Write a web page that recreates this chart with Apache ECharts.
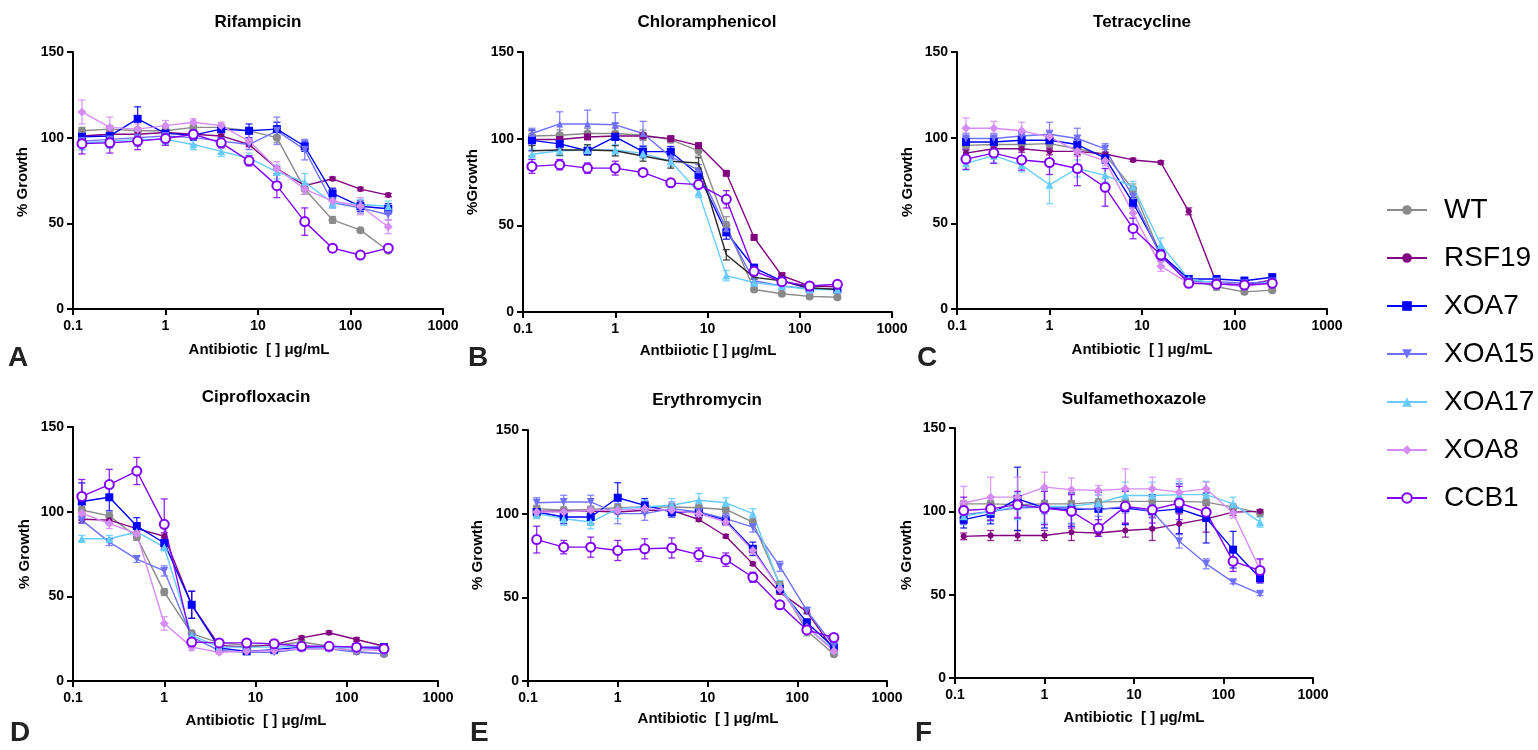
<!DOCTYPE html>
<html><head><meta charset="utf-8">
<script src="https://cdn.jsdelivr.net/npm/echarts@6/dist/echarts.min.js"></script>
<style>html,body{margin:0;padding:0;background:#fff}#c{width:1538px;height:750px}</style>
</head><body><div id="c"></div>
<script>
// ---------- DATA ----------
const conc = [0.125, 0.25, 0.5, 1, 2, 4, 8, 16, 32, 64, 128, 256];
const strains = ['WT', 'RSF19', 'XOA7', 'XOA15', 'XOA17', 'XOA8', 'CCB1'];
const xTicks = [0.1, 1, 10, 100, 1000];
const yTicks = [0, 50, 100, 150];

// Rifampicin
const RIF_WT    = [104,105,104,104,106,106,104,100,70,52,46,34];
const RIF_RSF19 = [101,102,102,103,102,101,96,82,72,76,70,66.5];
const RIF_XOA7  = [100.5,101,111,102.5,101.5,105,104,105,95,67.5,60,58.5];
const RIF_XOA15 = [98,99,100,101,100,98,96,104,93,62,59,55];
const RIF_XOA17 = [97,98,99,99,96,92,88,80,74,62,61,60];
const RIF_XOA8  = [115,106,105,107,109,107,98,82,70,63,60,48];
const RIF_CCB1  = [96.5,97,98,99.5,102,97,86.5,72,51,35.5,31.5,35.5];
const RIF_ERR = [
  [2,2,2,2,2,2,2,3,3,2,1,1],
  [1,1,1,1,1,1,1,1,1,1,1,1],
  [3,4,7,4,3,2,4,4,3,3,3,3],
  [5,5,5,4,4,3,3,8,6,3,3,3],
  [4,4,3,3,3,3,3,4,5,3,3,3],
  [7,6,3,3,2,2,4,4,3,3,5,4],
  [6,6,5,4,3,3,3,7,8,2,2,2]];

// Chloramphenicol
const CHL_WT    = [101.5,102,103,103,102,99.5,93,50,13,10.5,9,8.5];
const CHL_RSF19 = [99.5,99.5,101,101.5,101.5,100,96,80,43,21,15,14.5];
const CHL_XOA7  = [99,97,93,101,92.5,92.5,79,46,25.5,18,13.5,13];
const CHL_XOA15 = [103,108.5,108.5,108,103,89.5,82,48,18,15,13.5,13];
const CHL_XOA17 = [91,93,93.5,93.5,91.5,87,69,21,17,15,13,13];
const CHL_XOA8  = [93,93.5,93.5,93,90,87,86,33,20,18,14,13];
const CHL_CCB1  = [84,85,83,83,80.5,74.5,73.5,65,23.5,17.5,15,16];
const CHL_ERR = [
  [3,3,3,3,3,2,3,5,1,1,1,1],
  [1,1,1,1,1,1,1,1,1,1,1,1],
  [6,3,2,8,3,3,3,4,2,2,1,1],
  [3,7,8,7,7,4,3,4,2,2,1,1],
  [3,3,3,3,3,3,3,3,2,1,1,1],
  [3,3,3,3,3,4,3,3,1,1,1,1],
  [4,3,3,4,2,2,2,5,2,1,1,1]];

// Tetracycline
const TET_WT    = [95.5,96,96,96.5,93.5,90,70,31.5,17.5,13,10,11];
const TET_RSF19 = [91,93.5,93.5,92,92,90.5,87,85.5,57,15,14,17];
const TET_XOA7  = [97.5,97.5,98.5,98.5,96,88,62,32,17.5,17.5,16.5,18.5];
const TET_XOA15 = [99.5,99.5,101,102,99.5,93.5,65.5,30.5,16,16,15,16];
const TET_XOA17 = [85,89.5,84,72.5,82,78,71.5,37.5,17.5,15,13.5,16];
const TET_XOA8  = [105.5,105.5,104,100.5,92,86.5,56,25,15,15,13,15.5];
const TET_CCB1  = [87.5,91,87,85.5,82,71,47,31.5,15,14.5,14,15];
const TET_ERR = [
  [3,3,3,3,3,3,3,2,1,2,1,1],
  [2,2,2,2,2,1,1,1,2,1,1,1],
  [3,3,3,3,3,3,3,3,2,2,2,2],
  [3,3,3,7,6,3,3,3,2,2,2,2],
  [4,4,4,11,5,4,3,4,2,2,2,2],
  [6,4,5,4,3,3,3,3,2,2,2,2],
  [6,6,6,7,10,11,6,3,2,2,2,2]];

// Ciprofloxacin
const CIP_WT    = [101,97.5,85,52.5,28,22.5,21,21,23,20.5,17.5,16];
const CIP_RSF19 = [95.5,95,90,85.5,45,21,20,21.5,25.5,28.5,24.5,20.5];
const CIP_XOA7  = [106,108.5,91.5,81.5,45,19.5,17.5,18.5,20,20,20,20];
const CIP_XOA15 = [95,82,72,65,26,18,17,17,19,19,17,16];
const CIP_XOA17 = [84,84,88,79,27,20,20,20,20.5,20,19.5,18.5];
const CIP_XOA8  = [99,93,87,34,20,17,17.5,18,19,19,18.5,18];
const CIP_CCB1  = [109,116,124,92.5,23,22.5,22.5,22,20.5,20.5,20,19];
const CIP_ERR = [
  [2,2,2,2,2,1,1,1,1,1,1,1],
  [2,2,2,2,8,1,1,1,1,1,1,1],
  [11,8,5,3,8,2,1,1,1,1,1,1],
  [2,2,2,3,2,1,1,1,1,1,1,1],
  [2,2,2,2,2,1,1,1,1,1,1,1],
  [3,3,3,4,2,1,1,1,1,1,1,1],
  [10,9,8,15,2,2,2,2,1,1,1,1]];

// Erythromycin
const ERY_WT    = [103,102,102.5,103.5,104,104,103.5,102.5,95,57.5,30,16];
const ERY_RSF19 = [101.5,101.5,101.5,101,102,102,96.5,86.5,70,53,41.5,18.5];
const ERY_XOA7  = [101,98,98,109.5,105,101,101,96,79,55,35,20];
const ERY_XOA15 = [106.5,107,107,100,100,103,101,97,92,68.5,42,21];
const ERY_XOA17 = [100,97,95,103,104,105,108,106.5,100,57,32,19];
const ERY_XOA8  = [101,101,102,102,103,102,100,95,78,55,32,18];
const ERY_CCB1  = [84.5,80,80,78,79,79.5,75.5,72.5,62,45.5,30.5,26];
const ERY_ERR = [
  [2,2,2,2,2,2,2,2,2,2,3,1],
  [1,1,1,1,1,1,1,1,1,1,1,1],
  [3,4,4,9,4,3,3,3,4,3,2,2],
  [3,4,4,6,4,4,4,3,3,3,2,2],
  [3,4,4,6,4,4,4,3,3,3,2,2],
  [2,2,2,2,2,2,2,2,2,2,2,2],
  [8,4,6,6,6,6,4,4,3,2,2,2]];

// Sulfamethoxazole
const SMX_WT    = [104.5,104.5,104,104.5,104.5,105.5,106,106,106,105.5,102.5,99];
const SMX_RSF19 = [85,85.5,85.5,85.5,87.5,87,88.5,89.5,92.5,95.5,99.5,100];
const SMX_XOA7  = [95,98.5,107.5,102,101,101.5,102,100,101.5,96,77,60];
const SMX_XOA15 = [98,100,102,102.5,102,101,103,100,82,68.5,57.5,50.5];
const SMX_XOA17 = [97,100,103,103,103,105,109.5,109.5,110,110,104.5,93.5];
const SMX_XOA8  = [105,108.5,108.5,114.5,113,112.5,113.5,113.5,111.5,113.5,99,65];
const SMX_CCB1  = [100.5,101.5,104,102,100,90,103,101,105,99.5,70,64.5];
const SMX_ERR = [
  [2,2,2,2,2,2,2,2,2,2,2,2],
  [2,3,3,3,5,2,4,7,6,8,2,1],
  [5,6,19,12,10,10,10,10,15,15,11,3],
  [5,5,6,4,4,4,4,4,4,3,1,1],
  [5,6,8,10,10,5,8,8,8,8,4,3],
  [10,12,12,9,7,3,12,7,8,4,3,6],
  [8,7,8,10,10,5,10,8,10,5,6,7]];

// ---------- PANELS (layout separate from data) ----------
const FONT = '"Liberation Sans", Arial, Helvetica, sans-serif';
const panels = [
  {title:'Rifampicin', letter:'A', xName:'Antibiotic  [ ] μg/mL', yName:'% Growth',
   vals:[RIF_WT,RIF_RSF19,RIF_XOA7,RIF_XOA15,RIF_XOA17,RIF_XOA8,RIF_CCB1], errs:RIF_ERR,
   grid:{left:73,top:52,width:370,height:257}, tPos:[258,22], xnPos:[259,350], ynPos:[23,182], lPos:[8,372]},
  {title:'Chloramphenicol', letter:'B', xName:'Antbiiotic [ ] μg/mL', yName:'%Growth',
   vals:[CHL_WT,CHL_RSF19,CHL_XOA7,CHL_XOA15,CHL_XOA17,CHL_XOA8,CHL_CCB1], errs:CHL_ERR,
   grid:{left:523,top:52,width:369,height:260}, tPos:[707,22], xnPos:[708,351], ynPos:[473,182], lPos:[468,372],
   over:{RSF19:{symbol:'rect', size:7}, XOA15:{symbol:'triangle', rotate:0, size:7}, XOA8:{color:'#2a2a2a', symbol:'none'}}},
  {title:'Tetracycline', letter:'C', xName:'Antibiotic  [ ] μg/mL', yName:'% Growth',
   vals:[TET_WT,TET_RSF19,TET_XOA7,TET_XOA15,TET_XOA17,TET_XOA8,TET_CCB1], errs:TET_ERR,
   grid:{left:957,top:52,width:370,height:257}, tPos:[1142,22], xnPos:[1142,350], ynPos:[908,182], lPos:[917,372]},
  {title:'Ciprofloxacin', letter:'D', xName:'Antibiotic  [ ] μg/mL', yName:'% Growth',
   vals:[CIP_WT,CIP_RSF19,CIP_XOA7,CIP_XOA15,CIP_XOA17,CIP_XOA8,CIP_CCB1], errs:CIP_ERR,
   grid:{left:73,top:427,width:365,height:254}, tPos:[256,397], xnPos:[256,721], ynPos:[25,554], lPos:[10,747]},
  {title:'Erythromycin', letter:'E', xName:'Antibiotic  [ ] μg/mL', yName:'% Growth',
   vals:[ERY_WT,ERY_RSF19,ERY_XOA7,ERY_XOA15,ERY_XOA17,ERY_XOA8,ERY_CCB1], errs:ERY_ERR,
   grid:{left:528,top:430,width:359,height:251}, tPos:[707,400], xnPos:[708,719], ynPos:[478,555], lPos:[470,747]},
  {title:'Sulfamethoxazole', letter:'F', xName:'Antibiotic  [ ] μg/mL', yName:'% Growth',
   vals:[SMX_WT,SMX_RSF19,SMX_XOA7,SMX_XOA15,SMX_XOA17,SMX_XOA8,SMX_CCB1], errs:SMX_ERR,
   grid:{left:955,top:428,width:358,height:250}, tPos:[1134,399], xnPos:[1134,718], ynPos:[907,555], lPos:[915,747]}
];

const STYLE = {
  WT:    {color:'#8a8a8a', symbol:'circle', size:8, rotate:0},
  RSF19: {color:'#800080', symbol:'circle', size:6, rotate:0},
  XOA7:  {color:'#0000ff', symbol:'rect', size:8, rotate:0},
  XOA15: {color:'#7070ff', symbol:'triangle', size:8, rotate:180},
  XOA17: {color:'#66ccff', symbol:'triangle', size:8, rotate:0},
  XOA8:  {color:'#d68cf7', symbol:'diamond', size:9, rotate:0},
  CCB1:  {color:'#8000ff', symbol:'emptyCircle', size:9, rotate:0}
};

// ---------- BUILD OPTION ----------
const grids = [], xAxes = [], yAxes = [], series = [], graphics = [];
const fmt = v => String(+(+v).toPrecision(3));

panels.forEach((p, pi) => {
  grids.push(Object.assign({containLabel:false}, p.grid));
  xAxes.push({
    type:'log', logBase:10, gridIndex:pi, min:xTicks[0], max:xTicks[xTicks.length-1],
    axisLine:{show:true, onZero:false, lineStyle:{color:'#000', width:2}},
    axisTick:{show:true, length:6, lineStyle:{color:'#000', width:2}},
    minorTick:{show:false}, splitLine:{show:false},
    axisLabel:{color:'#000', fontFamily:FONT, fontWeight:'bold', fontSize:14, margin:10, formatter:fmt}
  });
  yAxes.push({
    type:'value', gridIndex:pi, min:yTicks[0], max:yTicks[yTicks.length-1], interval:50,
    axisLine:{show:true, lineStyle:{color:'#000', width:2}},
    axisTick:{show:true, length:6, lineStyle:{color:'#000', width:2}},
    splitLine:{show:false},
    axisLabel:{color:'#000', fontFamily:FONT, fontWeight:'bold', fontSize:14, margin:9}
  });

  strains.forEach((s, si) => {
    const st = Object.assign({}, STYLE[s], (p.over && p.over[s]) || {});
    const vals = p.vals[si], errs = p.errs[si];
    // error bars
    series.push({
      type:'custom', xAxisIndex:pi, yAxisIndex:pi, z:2, silent:true,
      data: conc.map((c, i) => [c, Math.max(0.01, vals[i] - errs[i]), vals[i] + errs[i]]),
      encode:{x:0, y:[1,2]},
      renderItem: (params, api) => {
        const x = api.value(0);
        const a = api.coord([x, api.value(1)]), b = api.coord([x, api.value(2)]);
        const w = 3.5, sty = {stroke:st.color, lineWidth:1.3, opacity:0.85};
        return {type:'group', children:[
          {type:'line', shape:{x1:a[0], y1:a[1], x2:b[0], y2:b[1]}, style:sty},
          {type:'line', shape:{x1:a[0]-w, y1:a[1], x2:a[0]+w, y2:a[1]}, style:sty},
          {type:'line', shape:{x1:b[0]-w, y1:b[1], x2:b[0]+w, y2:b[1]}, style:sty}
        ]};
      }
    });
    // lines + markers
    const empty = st.symbol === 'emptyCircle';
    series.push({
      name:s, type:'line', xAxisIndex:pi, yAxisIndex:pi, z:3,
      data: conc.map((c, i) => [c, vals[i]]),
      symbol: st.symbol, symbolSize: st.size, symbolRotate: st.rotate, showAllSymbol:true,
      color: st.color,
      lineStyle:{color:st.color, width:1.4},
      itemStyle: empty ? {color:st.color, borderColor:st.color, borderWidth:2} : {color:st.color},
      emphasis:{disabled:true}, animation:false
    });
  });

  const tx = (x, y, text, style, extra) => graphics.push(Object.assign({type:'text', x, y,
    style:Object.assign({text, fill:'#000', fontFamily:FONT, textAlign:'center', textVerticalAlign:'middle'}, style)}, extra || {}));
  tx(p.tPos[0], p.tPos[1], p.title, {fontSize:17, fontWeight:'bold'});
  tx(p.xnPos[0], p.xnPos[1], p.xName, {fontSize:15, fontWeight:'bold'});
  tx(p.ynPos[0], p.ynPos[1], p.yName, {fontSize:15, fontWeight:'bold'}, {rotation:Math.PI/2});
  tx(p.lPos[0], p.lPos[1], p.letter, {fontSize:28, fontWeight:'bold', fill:'#222', textAlign:'left', textVerticalAlign:'bottom'});
});

const chart = echarts.init(document.getElementById('c'), null, {renderer:'canvas'});
chart.setOption({
  animation:false,
  backgroundColor:'#fff',
  grid:grids, xAxis:xAxes, yAxis:yAxes, series:series, graphic:graphics,
  legend:{
    data:strains, orient:'vertical', left:1381, top:190,
    itemWidth:40, itemHeight:12, itemGap:18,
    textStyle:{fontSize:28, fontFamily:FONT, color:'#000', padding:[0,0,0,12], lineHeight:30},
    selectedMode:false
  }
});
</script></body></html>
